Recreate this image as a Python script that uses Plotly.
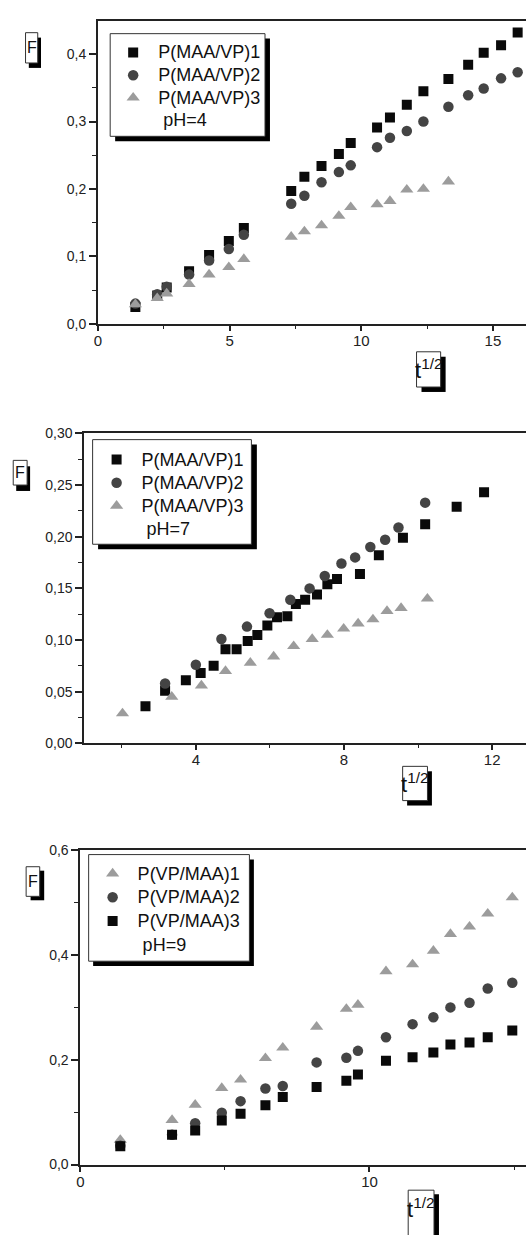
import plotly.graph_objects as go

W, H = 526, 1235

# ---------------- data ----------------
# Panel 1: pH = 4
p1_t = [1.42, 2.25, 2.61, 3.46, 4.22, 4.97, 5.54, 7.34, 7.84, 8.49, 9.15, 9.60,
        10.60, 11.09, 11.73, 12.36, 13.31, 14.06, 14.65, 15.31, 15.94]
p1_s1 = [0.025, 0.042, 0.054, 0.078, 0.102, 0.123, 0.142, 0.197, 0.218, 0.234, 0.252,
         0.268, 0.291, 0.306, 0.325, 0.345, 0.363, 0.384, 0.402, 0.413, 0.432]
p1_s2 = [0.030, 0.044, 0.055, 0.073, 0.094, 0.111, 0.132, 0.178, 0.190, 0.210, 0.225,
         0.235, 0.262, 0.276, 0.286, 0.300, 0.322, 0.339, 0.349, 0.364, 0.373]
p1_t3 = [1.42, 2.25, 2.61, 3.46, 4.22, 4.97, 5.54, 7.34, 7.84, 8.49, 9.15, 9.60,
         10.60, 11.09, 11.73, 12.36, 13.31]
p1_s3 = [0.029, 0.038, 0.045, 0.059, 0.073, 0.084, 0.096, 0.129, 0.137, 0.146, 0.160,
         0.173, 0.177, 0.182, 0.199, 0.200, 0.211]
p1_names = ["P(MAA/VP)1", "P(MAA/VP)2", "P(MAA/VP)3"]
p1_note = "pH=4"

# Panel 2: pH = 7
p2_t1 = [2.64, 3.17, 3.73, 4.13, 4.48, 4.80, 5.10, 5.40, 5.66, 5.93, 6.19, 6.47, 6.70,
         6.95, 7.27, 7.55, 7.81, 8.43, 8.94, 9.59, 10.19, 11.04, 11.78]
p2_s1 = [0.036, 0.051, 0.061, 0.068, 0.075, 0.091, 0.091, 0.099, 0.105, 0.114, 0.122,
         0.123, 0.135, 0.139, 0.144, 0.154, 0.159, 0.164, 0.182, 0.199, 0.212, 0.229, 0.243]
p2_t2 = [3.17, 4.00, 4.69, 5.38, 5.99, 6.55, 7.07, 7.48, 7.93, 8.30, 8.71, 9.11, 9.47, 10.19]
p2_s2 = [0.058, 0.076, 0.101, 0.113, 0.126, 0.139, 0.150, 0.162, 0.174, 0.180, 0.190,
         0.197, 0.209, 0.233]
p2_t3 = [2.02, 3.35, 4.15, 4.80, 5.47, 6.10, 6.64, 7.14, 7.55, 7.99, 8.38, 8.78, 9.16,
         9.54, 10.25]
p2_s3 = [0.029, 0.045, 0.056, 0.070, 0.078, 0.084, 0.094, 0.101, 0.105, 0.111, 0.116,
         0.120, 0.128, 0.131, 0.140]
p2_names = ["P(MAA/VP)1", "P(MAA/VP)2", "P(MAA/VP)3"]
p2_note = "pH=7"

# Panel 3: pH = 9
p3_t = [1.38, 3.17, 3.97, 4.89, 5.54, 6.40, 7.00, 8.17, 9.20, 9.60, 10.57, 11.49,
        12.21, 12.80, 13.46, 14.09, 14.94]
p3_s1 = [0.047, 0.085, 0.114, 0.146, 0.162, 0.203, 0.223, 0.263, 0.297, 0.305, 0.369,
         0.382, 0.408, 0.440, 0.454, 0.479, 0.510]
p3_s2 = [0.036, 0.057, 0.079, 0.099, 0.121, 0.145, 0.150, 0.195, 0.204, 0.217, 0.243,
         0.268, 0.281, 0.300, 0.309, 0.336, 0.347]
p3_s3 = [0.035, 0.057, 0.065, 0.084, 0.097, 0.113, 0.129, 0.148, 0.160, 0.172, 0.198,
         0.205, 0.214, 0.229, 0.233, 0.243, 0.256]
p3_names = ["P(VP/MAA)1", "P(VP/MAA)2", "P(VP/MAA)3"]
p3_note = "pH=9"

y_label = "F"
x_label = "t<sup>1/2</sup>"

# ---------------- styles ----------------
FONT = "Liberation Sans, Arial, sans-serif"
C_SQ, C_CI, C_TR = "#0a0a0a", "#444444", "#9c9c9c"
AX = "#222222"
NBSP = "\u00a0"
TXT = 18  # legend entry text size


def px(x):
    return x / W


def py(y):
    return 1 - y / H


def lname(s, extra=1):
    return '<span style="font-size:%.1fpx">' % TXT + NBSP * extra + s + "</span>"


fig = go.Figure()


def add(xs, ys, name, sym, color, size, xa, ya, leg):
    fig.add_trace(go.Scatter(
        x=xs, y=ys, mode="markers", name=lname(name),
        marker=dict(symbol=sym, color=color, size=size, line=dict(width=0)),
        xaxis=xa, yaxis=ya, legend=leg, hoverinfo="x+y"))


def add_note(text, xa, ya, leg):
    fig.add_trace(go.Scatter(
        x=[None], y=[None], mode="markers", name=lname(text, 2),
        marker=dict(symbol="square", color="rgba(0,0,0,0)", size=10),
        xaxis=xa, yaxis=ya, legend=leg, hoverinfo="skip"))


# panel 1
add(p1_t, p1_s1, p1_names[0], "square", C_SQ, 10, "x", "y", "legend")
add(p1_t, p1_s2, p1_names[1], "circle", C_CI, 10.5, "x", "y", "legend")
add(p1_t3, p1_s3, p1_names[2], "triangle-up", C_TR, 11.5, "x", "y", "legend")
add_note(p1_note, "x", "y", "legend")
# panel 2
add(p2_t1, p2_s1, p2_names[0], "square", C_SQ, 10, "x2", "y2", "legend2")
add(p2_t2, p2_s2, p2_names[1], "circle", C_CI, 10.5, "x2", "y2", "legend2")
add(p2_t3, p2_s3, p2_names[2], "triangle-up", C_TR, 11.5, "x2", "y2", "legend2")
add_note(p2_note, "x2", "y2", "legend2")
# panel 3
add(p3_t, p3_s1, p3_names[0], "triangle-up", C_TR, 11.5, "x3", "y3", "legend3")
add(p3_t, p3_s2, p3_names[1], "circle", C_CI, 10.5, "x3", "y3", "legend3")
add(p3_t, p3_s3, p3_names[2], "square", C_SQ, 10, "x3", "y3", "legend3")
add_note(p3_note, "x3", "y3", "legend3")


def xax(dom, rng, dtick, mdtick, anchor):
    return dict(domain=dom, range=rng, anchor=anchor, tickmode="linear", tick0=0, dtick=dtick,
                ticks="outside", ticklen=5, tickwidth=1.5, tickcolor=AX,
                ticklabelstandoff=-3,
                showline=True, linewidth=2, linecolor=AX, mirror=True,
                showgrid=False, zeroline=False,
                minor=dict(ticks="outside", ticklen=3, tickwidth=1.2, tickcolor=AX,
                           dtick=mdtick, tick0=0, showgrid=False),
                tickfont=dict(family=FONT, size=15, color=AX))


def yax(dom, rng, dtick, mdtick, fmt, anchor):
    return dict(domain=dom, range=rng, anchor=anchor, tickmode="linear", tick0=0, dtick=dtick,
                tickformat=fmt, ticks="outside", ticklen=7, tickwidth=1.5, tickcolor=AX,
                showline=True, linewidth=2, linecolor=AX, mirror=False,
                showgrid=False, zeroline=False,
                minor=dict(ticks="outside", ticklen=4, tickwidth=1.2, tickcolor=AX,
                           dtick=mdtick, tick0=0, showgrid=False),
                tickfont=dict(family=FONT, size=14, color=AX))


def leg(x, y, fs):
    return dict(x=px(x), y=py(y), xanchor="left", yanchor="top",
                bgcolor="rgba(0,0,0,0)", borderwidth=0,
                font=dict(family=FONT, size=fs, color="#111111"),
                traceorder="normal", itemclick=False, itemdoubleclick=False)


shapes = []


def rect(x0, y0, x1, y1, fill, lw=0, lc="rgba(0,0,0,0)"):
    shapes.append(dict(type="rect", xref="paper", yref="paper",
                       x0=px(x0), x1=px(x1), y0=py(y1), y1=py(y0),
                       fillcolor=fill, line=dict(width=lw, color=lc), layer="above"))


def boxed(x0, y0, x1, y1, dx, dy):
    rect(x0 + dx, y0 + dy, x1 + dx, y1 + dy, "#000000")
    rect(x0, y0, x1, y1, "#ffffff", 1, "#333333")


# legend boxes
boxed(107, 26, 263, 130, 5, 5)
boxed(89.3, 437.3, 249.3, 543.3, 5.5, 5)
boxed(85.3, 857.7, 247.3, 965.7, 4.5, 5)
# F label boxes
boxed(21.7, 25, 34, 55.7, 3.3, 5)
boxed(9.3, 458.3, 23.3, 483.3, 3, 6)
boxed(22.3, 870, 36, 900, 4.5, 4)
# t label boxes
boxed(415.7, 348.3, 440, 384, 5, 5)
boxed(401.7, 768.3, 426.7, 803, 4.5, 5)
boxed(407.3, 1197.7, 433.3, 1245, 5, 4)

annotations = []


def label(text, x, y, size):
    annotations.append(dict(text=text, x=px(x), y=py(y), xref="paper", yref="paper",
                            xanchor="center", yanchor="middle", showarrow=False,
                            font=dict(family=FONT, size=size, color="#111111")))


label(y_label, 28, 40.5, 16)
label(y_label, 16.3, 471, 16)
label(y_label, 29.2, 885, 16)
label(x_label, 428, 366, 22)
label(x_label, 414.2, 785, 22)
label(x_label, 420.3, 1216, 22)

fig.update_layout(
    width=W, height=H, autosize=False,
    margin=dict(l=0, r=0, t=0, b=0),
    paper_bgcolor="white", plot_bgcolor="white",
    separators=",.",
    xaxis=xax([px(94.7), 1], [0, 16.257], 5, 2.5, "y"),
    yaxis=yax([py(320), py(13)], [0, 0.4493], 0.1, 0.05, ".1f", "x"),
    xaxis2=xax([px(81), 1], [0.991, 12.912], 4, 2, "y2"),
    yaxis2=yax([py(745), py(431)], [0, 0.30], 0.05, 0.025, ".2f", "x2"),
    xaxis3=xax([px(77), 1], [0, 15.414], 10, 5, "y3"),
    yaxis3=yax([py(1171.7), py(853.3)], [0, 0.6], 0.2, 0.1, ".1f", "x3"),
    legend=leg(110, 28.7, 15.05),
    legend2=leg(93.3, 440.7, 15.49),
    legend3=leg(89.3, 859.9, 15.9),
    shapes=shapes,
    annotations=annotations,
    showlegend=True,
)

fig.write_html("out.html")
